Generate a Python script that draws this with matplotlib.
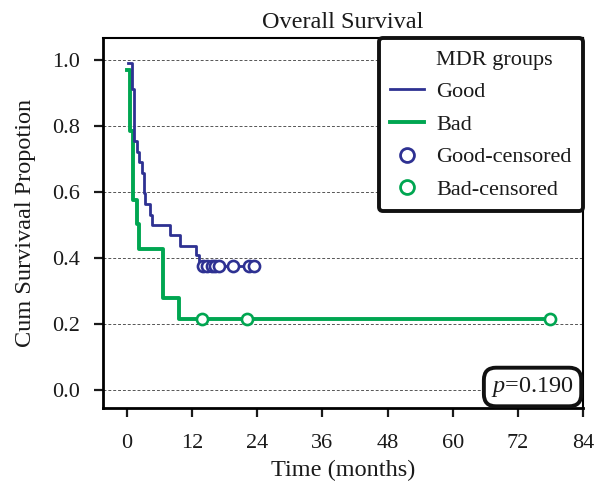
import numpy as np
import matplotlib
matplotlib.use("Agg")
import matplotlib.pyplot as plt
from matplotlib.lines import Line2D

plt.rcParams['font.family'] = ['Liberation Serif', 'DejaVu Serif']
plt.rcParams['mathtext.fontset'] = 'custom'
plt.rcParams['mathtext.it'] = 'Liberation Serif:italic'
plt.rcParams['mathtext.rm'] = 'Liberation Serif'

# Kaplan-Meier step data (months, cumulative survival)
good_t = [0.25, 0.86, 1.29, 1.78, 2.2, 2.7, 3.13, 3.4, 4.24, 4.67, 7.9, 9.8, 12.7, 13.3, 23.9]
good_s = [0.99, 0.911, 0.755, 0.72, 0.69, 0.658, 0.597, 0.564, 0.531, 0.498, 0.468, 0.435, 0.408, 0.375, 0.375]
bad_t = [0.0, 0.55, 1.16, 1.78, 2.2, 6.7, 9.6, 78.0]
bad_s = [0.97, 0.785, 0.574, 0.504, 0.428, 0.279, 0.214, 0.214]

good_cens_t = [13.95, 14.8, 15.6, 16.2, 17.0, 19.6, 22.4, 23.4]
good_cens_s = [0.375] * len(good_cens_t)
bad_cens_t = [13.9, 22.2, 78.0]
bad_cens_s = [0.214] * len(bad_cens_t)

xticks = [0, 12, 24, 36, 48, 60, 72, 84]
yticks = [0.0, 0.2, 0.4, 0.6, 0.8, 1.0]

blue = '#2e3192'
green = '#00a651'
fs = 16
lfs = 17.5

fig = plt.figure(figsize=(6.03, 4.88), dpi=100)
ax = fig.add_axes([0.1708, 0.1639, 0.7960, 0.7582])

for y in yticks:
    ax.axhline(y, color='#555555', lw=0.7, ls=(0, (3, 2)), zorder=1)

ax.step(good_t, good_s, where='post', color=blue, lw=2.0, zorder=3)
ax.step(bad_t, bad_s, where='post', color=green, lw=2.8, zorder=2)
ax.plot(good_cens_t, good_cens_s, 'o', ms=8, mfc='white', mec=blue, mew=1.9, ls='none', zorder=4)
ax.plot(bad_cens_t, bad_cens_s, 'o', ms=8, mfc='white', mec=green, mew=1.9, ls='none', zorder=4)

ax.set_xlim(-4.4, 84)
ax.set_ylim(-0.055, 1.066)
ax.set_xticks(xticks)
ax.set_yticks(yticks)
ax.set_yticklabels(['%.1f' % v for v in yticks])
ax.tick_params(direction='out', length=6.5, width=1.6, labelsize=fs, pad=10, colors='#1a1a1a')
ax.tick_params(axis='x', pad=12)
for side in ['left', 'bottom']:
    ax.spines[side].set_linewidth(2.0)
for side in ['top', 'right']:
    ax.spines[side].set_linewidth(1.5)

ax.set_title('Overall Survival', fontsize=lfs, pad=7, color='#1a1a1a')
ax.set_xlabel('Time (months)', fontsize=lfs, labelpad=5, color='#1a1a1a')
ax.set_ylabel('Cum Survivaal Propotion', fontsize=lfs, labelpad=12, color='#1a1a1a')

handles = [
    Line2D([], [], color='none'),
    Line2D([], [], color=blue, lw=2.0),
    Line2D([], [], color=green, lw=2.8),
    Line2D([], [], marker='o', ms=10, mfc='white', mec=blue, mew=2, ls='none'),
    Line2D([], [], marker='o', ms=10, mfc='white', mec=green, mew=2, ls='none'),
]
labels = ['MDR groups', 'Good', 'Bad', 'Good-censored', 'Bad-censored']
leg = ax.legend(handles, labels, loc='upper right', bbox_to_anchor=(1.0, 1.0),
                borderaxespad=0.0, fontsize=fs, frameon=True, fancybox=True,
                handlelength=1.55, handletextpad=0.55, labelspacing=0.54,
                borderpad=0.5, framealpha=1)
leg.get_frame().set_edgecolor('#111111')
leg.get_frame().set_linewidth(2.8)
for t in leg.get_texts():
    t.set_color('#1a1a1a')

ax.annotate(r'$p$=0.190', xy=(1.0, 0.0), xycoords='axes fraction',
            xytext=(-6.5, 6.5), textcoords='offset points', ha='right', va='bottom',
            fontsize=lfs, color='#1a1a1a',
            bbox=dict(boxstyle='round,pad=0.3,rounding_size=0.5', fc='white', ec='#111111', lw=2.8))

fig.savefig('out.png', dpi=100)
